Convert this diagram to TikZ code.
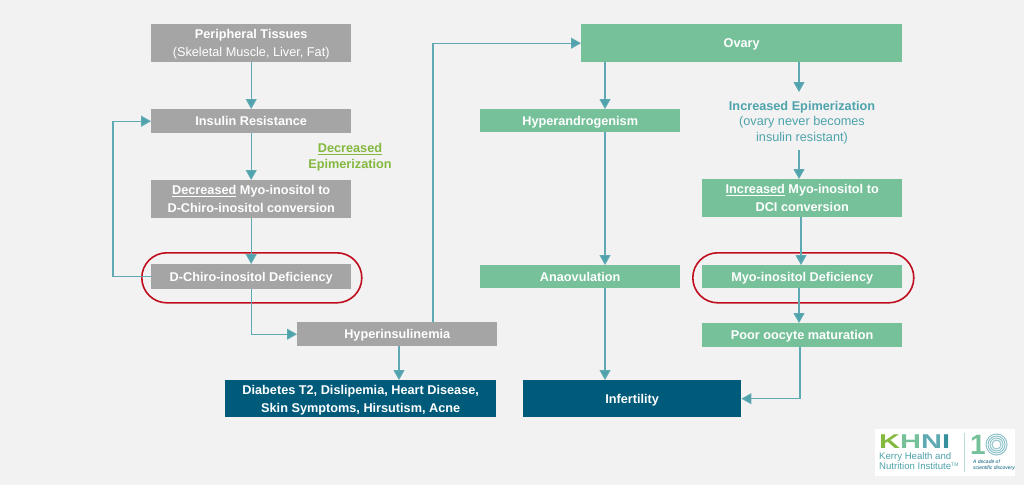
\documentclass[tikz,border=0pt]{standalone}
\usepackage{fontspec}
\setmainfont{Liberation Sans}
\usetikzlibrary{arrows.meta}
\definecolor{bgc}{HTML}{F2F2F2}
\definecolor{greyc}{HTML}{A5A5A5}
\definecolor{greenc}{HTML}{76C19A}
\definecolor{navyc}{HTML}{005B7B}
\definecolor{tealc}{HTML}{5FA9B3}
\definecolor{tealt}{HTML}{4EA3AC}
\definecolor{limec}{HTML}{84B83F}
\definecolor{redc}{HTML}{C00D1E}
\newcommand{\mystrut}{\rule[-4pt]{0pt}{17pt}}
\tikzset{
 x=1pt,y=-1pt,
 box/.style={inner sep=0pt,align=center,text=white,font=\fontsize{12.7}{16.5}\selectfont\bfseries,anchor=north west},
 grey/.style={box,fill=greyc},
 green/.style={box,fill=greenc},
 navy/.style={box,fill=navyc},
 conn/.style={draw=tealc,line width=1.1pt,-{Triangle[width=11pt,length=10pt,fill=tealt]}},
 halo/.style={draw=redc,line width=1.6pt,rounded corners=25pt},
 ring/.style={draw=tealc!70,circle,inner sep=0pt},
}
\newcommand{\bx}[6]{\node[#1,minimum width=#4pt,minimum height=#5pt] (#2) at (#3) {\mystrut #6\mystrut};}
\begin{document}
\begin{tikzpicture}
\useasboundingbox (0,0) rectangle (1024,485);
\fill[bgc] (0,0) rectangle (1024,485);
% nodes
\bx{grey}{periph}{151,24}{200}{38}{Peripheral Tissues\\{\mdseries (Skeletal Muscle, Liver, Fat)}}
\bx{grey}{ir}{151,109}{200}{24}{Insulin Resistance}
\bx{grey}{dec}{151,180}{200}{38}{\underline{Decreased} Myo-inositol to\\D-Chiro-inositol conversion}
\bx{grey}{dci}{151,264}{200}{25}{D-Chiro-inositol Deficiency}
\bx{grey}{hyper}{297,322}{200}{24}{Hyperinsulinemia}
\bx{navy}{diab}{225,380}{271}{37}{Diabetes T2, Dislipemia, Heart Disease,\\Skin Symptoms, Hirsutism, Acne}
\bx{navy}{infert}{523,380}{218}{37}{Infertility}
\bx{green}{ovary}{581,24}{321}{38}{Ovary}
\bx{green}{andro}{480,109}{200}{23}{Hyperandrogenism}
\bx{green}{anov}{480,265}{200}{23}{Anaovulation}
\bx{green}{incr}{702,179}{200}{38}{\underline{Increased} Myo-inositol to\\DCI conversion}
\bx{green}{myo}{702,265}{200}{23}{Myo-inositol Deficiency}
\bx{green}{poor}{702,323}{200}{24}{Poor oocyte maturation}
% free labels
\node[align=center,text=tealt,font=\fontsize{12.7}{15.5}\selectfont] (epi) at (802,122.5) {\textbf{Increased Epimerization}\\(ovary never becomes\\insulin resistant)};
\node[align=center,text=limec,font=\fontsize{12.7}{15.5}\selectfont\bfseries] (dece) at (350,157) {\underline{Decreased}\\Epimerization};
% red outlines
\node[halo,inner sep=0pt,minimum width=220pt,minimum height=50pt,anchor=north west] (ringa) at (141,252) {};
\node[halo,inner sep=0pt,minimum width=221pt,minimum height=50pt,anchor=north west] (ringb) at (692,252) {};
% helper coordinates
\coordinate (la) at (113,276);
\coordinate (lb) at (433,43);
\coordinate (vh) at (399,340);
\coordinate (va) at (605,100);
\coordinate (ep1) at (799,92);
\coordinate (ep2) at (799,150);
\coordinate (ep3) at (801,220);
\coordinate (ep4) at (800,350);
% connectors
\draw[conn] (periph) -- (ir);
\draw[conn] (ir) -- (dec);
\draw[conn] (dec) -- (dci);
\draw[conn] (dci.west) -- (dci.west -| la) |- (ir.west);
\draw[conn] (dci.south) |- (hyper.west);
\draw[conn] (hyper.north -| lb) |- (ovary.west);
\draw[conn] (hyper.south -| vh) -- (diab.north -| vh);
\draw[conn] (ovary.south -| va) -- (andro.north -| va);
\draw[conn] (ovary.south -| ep1) -- (ep1);
\draw[conn] (ep2) -- (ep2 |- incr.north);
\draw[conn] (incr.south -| ep3) -- (myo.north -| ep3);
\draw[conn] (myo.south -| ep1) -- (poor.north -| ep1);
\draw[conn] (andro.south -| va) -- (anov.north -| va);
\draw[conn] (anov.south -| va) -- (infert.north -| va);
\draw[conn] (poor.south -| ep4) |- (infert.east);
% logo
\node[fill=white,inner sep=0pt,minimum width=140pt,minimum height=47pt,anchor=north west] (logo) at (875,429) {};
\node[inner sep=0pt,anchor=west,font=\fontsize{20}{20}\selectfont\bfseries] (khni) at (879,442)
 {\scalebox{1.45}[1]{\textcolor{limec}{K}\textcolor{greenc}{H}\textcolor{tealc}{N}\textcolor{tealt!70!navyc}{I}}};
\node[inner sep=0pt,anchor=north west,align=left,text=tealt,font=\fontsize{9.6}{10}\selectfont] (kerry) at (879,452.5) {Kerry Health and\\Nutrition Institute\textsuperscript{\tiny TM}};
\draw[greenc!50,line width=.4pt] (964,433) -- (964,472);
\node[inner sep=0pt,anchor=west,text=greenc,font=\fontsize{28}{28}\selectfont\bfseries] (ten) at (970,445) {1};
\node[ring,line width=1pt,minimum size=21pt] (zeroa) at (996.5,444.5) {};
\node[ring,line width=1pt,minimum size=17pt] (zerob) at (996.5,444.5) {};
\node[ring,line width=1pt,minimum size=13pt] (zeroc) at (996.5,444.5) {};
\node[ring,line width=1pt,minimum size=9pt] (zerod) at (996.5,444.5) {};
\node[inner sep=0pt,anchor=north west,align=left,text=navyc,font=\fontsize{5}{6}\selectfont\itshape] (deca) at (973,460) {A decade of\\scientific discovery};
\end{tikzpicture}
\end{document}
